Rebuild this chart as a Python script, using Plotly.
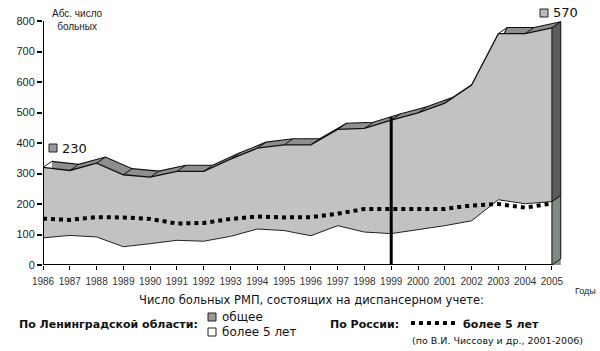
import plotly.graph_objects as go

# ---------------- data ----------------
years = list(range(1986, 2006))
leningrad_total = [320, 310, 334, 296, 288, 307, 307, 347, 383, 394, 394, 445, 448, 475,
                   499, 531, 590, 759, 759, 778]
leningrad_over5 = [89, 97, 92, 60, 70, 81, 78, 94, 118, 113, 96, 129, 108, 103,
                   116, 129, 145, 214, 201, 208]
russia_over5 = [152, 148, 157, 156, 151, 136, 138, 151, 159, 156, 157, 168, 184, 184,
                184, 184, 195, 200, 188, 202]
y_tick_values = [0, 100, 200, 300, 400, 500, 600, 700, 800]
x_tick_labels = [str(y) for y in years]
value_labels = ["230", "570"]
marker_year = 1999

# ---------------- styling / geometry ----------------
DX, DY = 0.33, 20          # pseudo-3D depth offset (data units)
L, R, T, B = 43, 32, 15, 86
W, H = 600, 351
X0, X1 = 1986, 2005.6
Y0, Y1 = 0, 820
FONT = "Liberation Sans"
FONT2 = "DejaVu Sans"

def px(xp):   # pixel -> paper x
    return (xp - L) / (W - L - R)

def py(yp):   # pixel -> paper y
    return (H - B - yp) / (H - T - B)

FRONT = "#c2c2c2"
TOP = "#8e8e8e"
SIDE = "#5c5c5c"
SIDE_W = "#808a80"

fig = go.Figure()

# back (top-surface) polygon
bx = [x + DX for x in years] + [years[-1] + DX, years[0] + DX]
by = [v + DY for v in leningrad_total] + [0, 0]
fig.add_trace(go.Scatter(x=bx, y=by, fill="toself", fillcolor=TOP, mode="lines",
                         line=dict(width=0), hoverinfo="skip", showlegend=False))
# back top edge
fig.add_trace(go.Scatter(x=[x + DX for x in years], y=[v + DY for v in leningrad_total],
                         mode="lines", line=dict(color="#111", width=1.1),
                         hoverinfo="skip", showlegend=False))
# diagonal edges at every year
dxs, dys = [], []
for x, v in zip(years, leningrad_total):
    dxs += [x, x + DX, None]
    dys += [v, v + DY, None]
fig.add_trace(go.Scatter(x=dxs, y=dys, mode="lines", line=dict(color="#111", width=1),
                         hoverinfo="skip", showlegend=False))

# front face (total)
fig.add_trace(go.Scatter(x=years + [years[-1], years[0]], y=leningrad_total + [0, 0],
                         fill="toself", fillcolor=FRONT, mode="lines", line=dict(width=0),
                         hoverinfo="skip", showlegend=False))
fig.add_trace(go.Scatter(x=years, y=leningrad_total, mode="lines",
                         line=dict(color="#111", width=1.3), hoverinfo="skip", showlegend=False))

# white face (> 5 years)
fig.add_trace(go.Scatter(x=years + [years[-1], years[0]], y=leningrad_over5 + [0, 0],
                         fill="toself", fillcolor="white", mode="lines", line=dict(width=0),
                         hoverinfo="skip", showlegend=False))
fig.add_trace(go.Scatter(x=years, y=leningrad_over5, mode="lines",
                         line=dict(color="#222", width=1), hoverinfo="skip", showlegend=False))

# side faces at the last year
xe = years[-1]
g, w = leningrad_total[-1], leningrad_over5[-1]
fig.add_trace(go.Scatter(x=[xe, xe, xe + DX, xe + DX, xe], y=[w, g, g + DY, w + DY, w],
                         fill="toself", fillcolor=SIDE, mode="lines",
                         line=dict(color="#111", width=1), hoverinfo="skip", showlegend=False))
fig.add_trace(go.Scatter(x=[xe, xe, xe + DX, xe + DX, xe], y=[0, w, w + DY, DY, 0],
                         fill="toself", fillcolor=SIDE_W, mode="lines",
                         line=dict(color="#111", width=1), hoverinfo="skip", showlegend=False))

# Russia (dotted)
fig.add_trace(go.Scatter(x=years, y=russia_over5, mode="lines",
                         line=dict(color="black", width=4, dash="dot"),
                         hoverinfo="skip", showlegend=False))

# axes lines, 1999 marker
shapes = [
    dict(type="line", xref="x", yref="y", x0=1986, x1=1986, y0=0, y1=800,
         line=dict(color="black", width=2)),
    dict(type="line", xref="x", yref="y", x0=1986, x1=2005, y0=0, y1=0,
         line=dict(color="black", width=2)),
    dict(type="line", xref="x", yref="y", x0=marker_year, x1=marker_year, y0=-8, y1=485,
         line=dict(color="black", width=3)),
]

# legend squares and dotted sample (pixel positions -> paper)
def sq(x, y, color):
    return dict(type="rect", xref="paper", yref="paper", x0=px(x), x1=px(x + 8),
                y0=py(y + 4), y1=py(y - 4), fillcolor=color, line=dict(color="#222", width=1))

shapes += [
    sq(208, 317, "#999999"),
    sq(208, 332, "white"),
    dict(type="line", xref="paper", yref="paper", x0=px(411), x1=px(456), y0=py(323), y1=py(323),
         line=dict(color="black", width=4, dash="dot")),
    sq(49, 148, "#999999"),
    sq(540, 13, "#bbbbbb"),
]

ann = []
def text(x, y, s, size, bold=False, anchor="left", font=FONT2, color="#111"):
    ann.append(dict(xref="paper", yref="paper", x=px(x), y=py(y), text=("<b>%s</b>" % s) if bold else s,
                    showarrow=False, xanchor=anchor, yanchor="middle",
                    font=dict(family=font, size=size, color=color)))

text(60, 148, value_labels[0], 13)
text(551, 13, value_labels[1], 13)
ann.append(dict(xref="paper", yref="paper", x=px(77), y=py(20), text="Абс. число<br>больных",
                showarrow=False, xanchor="center", yanchor="middle",
                font=dict(family=FONT, size=10, color="#222")))
text(573, 291, "Годы", 9, font=FONT, color="#222")
text(311, 300, "Число больных РМП, состоящих на диспансерном учете:", 11.5, anchor="center")
text(17, 324, "По Ленинградской области:", 11, bold=True)
text(220, 317, "общее", 12)
text(220, 332, "более 5 лет", 12)
text(328, 324, "По России:", 11, bold=True)
text(461, 324, "более 5 лет", 11, bold=True)
text(410, 340, "(по В.И. Чиссову и др., 2001-2006)", 9.5)

fig.update_layout(
    width=W, height=H, margin=dict(l=L, r=R, t=T, b=B),
    paper_bgcolor="white", plot_bgcolor="white",
    shapes=shapes, annotations=ann, showlegend=False,
    xaxis=dict(range=[X0, X1], tickvals=years, ticktext=x_tick_labels, showgrid=False,
               zeroline=False, showline=False, ticks="outside", ticklen=4, tickwidth=1,
               tickcolor="black", ticklabelstandoff=3,
               tickfont=dict(family=FONT, size=10, color="#333")),
    yaxis=dict(range=[Y0, Y1], tickvals=y_tick_values, showgrid=False, zeroline=False,
               showline=False, ticks="outside", ticklen=5, tickwidth=1.5, tickcolor="black",
               tickfont=dict(family=FONT, size=11, color="#222")),
)

fig.write_html("out.html")
